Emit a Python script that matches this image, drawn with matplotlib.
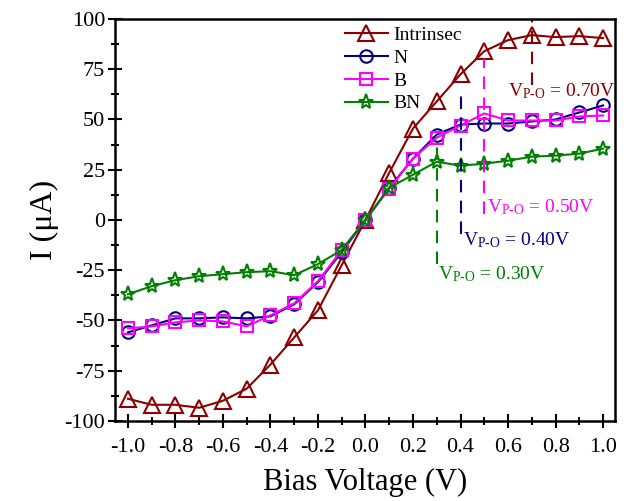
import matplotlib
matplotlib.use("Agg")
import matplotlib.pyplot as plt
from matplotlib.ticker import MultipleLocator

plt.rcParams['font.family'] = ['Liberation Serif', 'DejaVu Serif']
plt.rcParams['mathtext.fontset'] = 'custom'
plt.rcParams['mathtext.rm'] = 'Liberation Serif'
plt.rcParams['mathtext.it'] = 'Liberation Serif:italic'
plt.rcParams['axes.unicode_minus'] = False

# bias voltage (V)
voltage = [-1.0, -0.9, -0.8, -0.7, -0.6, -0.5, -0.4, -0.3, -0.2, -0.1, 0.0,
           0.1, 0.2, 0.3, 0.4, 0.5, 0.6, 0.7, 0.8, 0.9, 1.0]

# current (uA)
i_intrinsec = [-89, -92, -92, -93.5, -90, -84, -72, -58.5, -45, -22.5, 0,
               23.5, 45.5, 59, 72.5, 84, 89.5, 92, 91, 91.5, 90.5]
i_n = [-56, -52.5, -49, -49, -48.5, -49, -48, -42, -31, -16, 0,
       16, 30.5, 42.5, 47.5, 48, 48, 49, 50, 53.5, 57]
i_b = [-54, -53, -51, -50, -50.5, -53, -47.5, -41.5, -30.5, -15, 0,
       15.5, 30.5, 41, 47, 53, 49.5, 49.5, 49.5, 51.5, 52]
i_bn = [-37, -33, -30, -28, -27, -26, -25.5, -27.5, -22, -15, 0,
        16, 22.5, 29, 27, 28, 29.5, 31.5, 32, 33, 35.5]

# peak-onset markers
vpo_x = [0.7, 0.5, 0.4, 0.3]
vpo_top = [100, 80, 65, 37]
vpo_bot = [67, 3, -7, -22]
vpo_lbl_x = [0.6, 0.51, 0.41, 0.305]
vpo_lbl_y = [64, 6.5, -10, -27]
vpo_text = ['0.70V', '0.50V', '0.40V', '0.30V']
vpo_col = ['#8B0000', '#FF00FF', '#000080', '#008000']

fig = plt.figure(figsize=(6.34, 5.01), dpi=100)
ax = fig.add_axes([0.181, 0.160, 0.789, 0.802])

ax.plot(voltage, i_intrinsec, color='#8B0000', lw=1.5, marker='^', ms=11,
        mfc='none', mew=1.5, label='Intrinsec')
ax.plot(voltage, i_n, color='#000080', lw=1.5, marker='o', ms=9,
        mfc='none', mew=1.5, label='N')
ax.plot(voltage, i_b, color='#FF00FF', lw=1.5, marker='s', ms=8,
        mfc='none', mew=1.5, label='B')
ax.plot(voltage, i_bn, color='#008000', lw=1.5, marker='*', ms=11,
        mfc='none', mew=1.5, label='BN')

for x, yt, yb, lx, ly, t, c in zip(vpo_x, vpo_top, vpo_bot, vpo_lbl_x,
                                   vpo_lbl_y, vpo_text, vpo_col):
    ax.plot([x, x], [yb, yt], color=c, lw=1.5, ls=(0, (6, 4)))
    ax.text(lx, ly, r'V$_{\mathregular{\text{P-O}}}$ = ' + t, color=c,
            fontsize=14, va='center', ha='left')

ax.set_xlim(-1.055, 1.05)
ax.set_ylim(-100, 100)
ax.xaxis.set_major_locator(MultipleLocator(0.2))
ax.xaxis.set_minor_locator(MultipleLocator(0.1))
ax.yaxis.set_major_locator(MultipleLocator(25))
ax.yaxis.set_minor_locator(MultipleLocator(12.5))
ax.xaxis.set_major_formatter(plt.FuncFormatter(lambda v, p: '%.1f' % v))
ax.tick_params(which='major', direction='inout', length=10, width=1.5,
               labelsize=16, top=False, right=False, pad=2)
ax.tick_params(axis='x', which='major', pad=7)
ax.tick_params(which='minor', direction='inout', length=6, width=1.5,
               top=False, right=False)
for s in ax.spines.values():
    s.set_linewidth(1.8)

ax.set_xlabel('Bias Voltage (V)', fontsize=22, labelpad=8)
ax.set_ylabel('I (μA)', fontsize=23, labelpad=4)

ax.legend(loc='upper left', bbox_to_anchor=(0.46, 0.982), frameon=False,
          fontsize=14, handlelength=2.2, handletextpad=0.3,
          labelspacing=0.27, borderaxespad=0, borderpad=0)

fig.savefig('out.png', dpi=100)
